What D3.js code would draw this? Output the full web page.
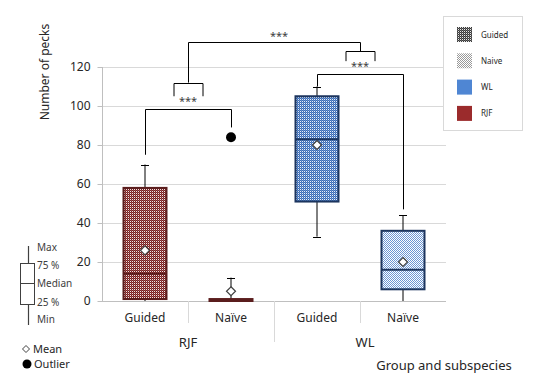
<!DOCTYPE html>
<html><head><meta charset="utf-8">
<script src="https://cdn.jsdelivr.net/npm/d3@7"></script>
<style>body{margin:0;background:#fff}svg{display:block}text{font-family:"Noto Sans",sans-serif}</style>
</head><body><svg id="c" width="547" height="379"></svg>
<script>
const categories = ["Guided","Naïve","Guided","Naïve"];
const groups = ["RJF","RJF","WL","WL"];
const groupNames = ["RJF","WL"];
const mins = [0, 0, 33, 0];
const q1s = [1, 0, 51, 6];
const medians = [14, 0, 83, 16];
const q3s = [58, 1, 105, 36];
const maxs = [70, 12, 110, 44];
const means = [26, 5, 80, 20];
const outlierIdx = [1];
const outlierVals = [84];
const yTicks = [0, 20, 40, 60, 80, 100, 120];
const legendLabels = ["Guided","Naive","WL","RJF"];
// significance brackets
const bracketLeft = [0, 2];
const bracketRight = [1, 3];
const bracketLevel = [98.5, 116.5];
const bracketLeftEnd = [75, 110];
const bracketRightEnd = [89, 47];
const sigLabels = ["***","***","***"];

const svg = d3.select("#c");
const keys = categories.map((c,i)=>groups[i]+"-"+c);
const x = d3.scaleBand().domain(keys).range([102,446]);
const y = d3.scaleLinear().domain([0,120]).range([301,67]);
const bw = x.bandwidth();
const cx = i => x(keys[i]) + bw/2;

// patterns
const defs = svg.append("defs");
function pat(id, color, bg, dense){
  const p = defs.append("pattern").attr("id",id).attr("width",2).attr("height",2).attr("patternUnits","userSpaceOnUse");
  p.append("rect").attr("width",2).attr("height",2).attr("fill",bg);
  p.append("rect").attr("x",0).attr("y",0).attr("width",1).attr("height",1).attr("fill",color);
  p.append("rect").attr("x",1).attr("y",1).attr("width",1).attr("height",1).attr("fill",color);
  if(dense){ p.append("rect").attr("x",1).attr("y",0).attr("width",1).attr("height",1).attr("fill",dense); }
}
pat("rjfG","#742020","#f2e2e2","#9c4b4b");
pat("rjfN","#7a2424","#ffffff",null);
pat("wlG","#3a6cb6","#eaf0fa","#6890cc");
pat("wlN","#6c96d3","#ffffff",null);
pat("legG","#3a3a3a","#e8e8e8","#6a6a6a");
pat("legN","#9a9a9a","#ffffff",null);
const fills = ["url(#rjfG)","url(#rjfN)","url(#wlG)","url(#wlN)"];
const strokes = ["#5a1d1d","#5a1d1d","#1c355e","#1c355e"];

// gridlines
svg.append("g").selectAll("line").data(yTicks.filter(d=>d>0)).join("line")
  .attr("x1",102).attr("x2",446).attr("y1",d=>y(d)+0.5).attr("y2",d=>y(d)+0.5)
  .attr("stroke","#d9d9d9");
svg.append("line").attr("x1",102).attr("x2",446).attr("y1",y(0)+0.5).attr("y2",y(0)+0.5).attr("stroke","#bfbfbf");

// y axis
const ya = svg.append("g").attr("transform","translate(102.5,0)")
  .call(d3.axisLeft(y).tickValues(yTicks).tickSize(5).tickPadding(7));
ya.select(".domain").attr("stroke","#bfbfbf").attr("d","M0,"+y(120)+"V"+(y(0)+1));
ya.selectAll(".tick line").attr("stroke","#bfbfbf");
ya.selectAll(".tick text").attr("font-family","Noto Sans").attr("font-size",12).attr("fill","#262626");

// category separators
const seps = [1,2,3];
svg.append("g").selectAll("line").data(seps).join("line")
  .attr("x1",d=>x(keys[d])+0.5).attr("x2",d=>x(keys[d])+0.5)
  .attr("y1",y(0)).attr("y2",d=>d===2?342:323).attr("stroke","#d9d9d9");

// category labels
svg.append("g").selectAll("text").data(categories).join("text")
  .attr("x",(d,i)=>cx(i)).attr("y",322).attr("text-anchor","middle")
  .attr("font-size",12).attr("fill","#262626").text(d=>d);
svg.append("g").selectAll("text").data(groupNames).join("text")
  .attr("x",(g)=>{const idx=groups.map((gg,i)=>gg===g?i:-1).filter(i=>i>=0);return (x(keys[idx[0]])+x(keys[idx[idx.length-1]])+bw)/2 + (g==="WL"?5:0);})
  .attr("y",347).attr("text-anchor","middle").attr("font-size",13).attr("fill","#262626").text(d=>d);
svg.append("text").attr("x",444).attr("y",370).attr("text-anchor","middle").attr("font-size",13).attr("fill","#262626").text("Group and subspecies");
svg.append("text").attr("transform","translate(49,72) rotate(-90)").attr("text-anchor","middle")
  .attr("font-size",12).attr("fill","#262626").text("Number of pecks");

// boxes
const bxw = bw/2;
const g = svg.append("g");
keys.forEach((k,i)=>{
  const c = cx(i);
  g.append("line").attr("x1",c).attr("x2",c).attr("y1",y(q3s[i])).attr("y2",y(maxs[i])).attr("stroke","#000");
  g.append("line").attr("x1",c-4).attr("x2",c+4).attr("y1",Math.round(y(maxs[i]))+0.5).attr("y2",Math.round(y(maxs[i]))+0.5).attr("stroke","#000");
  if(mins[i] < q1s[i]){
    g.append("line").attr("x1",c).attr("x2",c).attr("y1",y(q1s[i])).attr("y2",y(mins[i])).attr("stroke","#000");
    if(mins[i]>0) g.append("line").attr("x1",c-4).attr("x2",c+4).attr("y1",Math.round(y(mins[i]))+0.5).attr("y2",Math.round(y(mins[i]))+0.5).attr("stroke","#000");
  }
  const top = y(q3s[i]), bot = y(q1s[i]);
  g.append("rect").attr("x",c-bxw/2).attr("y",top).attr("width",bxw).attr("height",Math.max(bot-top,0.5))
    .attr("fill",fills[i]).attr("stroke",strokes[i]).attr("stroke-width",2);
  g.append("line").attr("x1",c-bxw/2).attr("x2",c+bxw/2).attr("y1",y(medians[i])).attr("y2",y(medians[i]))
    .attr("stroke",strokes[i]).attr("stroke-width",2);
  const my = y(means[i]);
  g.append("path").attr("d",`M${c},${my-4.5}L${c+4.5},${my}L${c},${my+4.5}L${c-4.5},${my}Z`)
    .attr("fill","#fff").attr("stroke","#404040").attr("stroke-width",1.2);
});
outlierIdx.forEach((oi,j)=>{
  g.append("circle").attr("cx",cx(oi)).attr("cy",y(outlierVals[j])).attr("r",5).attr("fill","#000");
});

// brackets
const b = svg.append("g").attr("fill","none").attr("stroke","#000");
const mids = [];
bracketLeft.forEach((l,i)=>{
  const x1 = cx(l), x2 = cx(bracketRight[i]), yl = y(bracketLevel[i]);
  b.append("path").attr("d",`M${x1+0.5},${y(bracketLeftEnd[i])}V${Math.round(yl)+0.5}H${x2+0.5}V${y(bracketRightEnd[i])}`);
  mids.push((x1+x2)/2);
});
const smallTop = [112, 128];
const smallBot = [105, 123];
const topLevel = 133;
const smallHalf = 14.5;
mids.forEach((m,i)=>{
  b.append("path").attr("d",`M${m-smallHalf+0.5},${y(smallBot[i])}V${Math.round(y(smallTop[i]))+0.5}H${m+smallHalf+0.5}V${y(smallBot[i])}`);
});
b.append("path").attr("d",`M${mids[0]+0.5},${y(smallTop[0])}V${Math.round(y(topLevel))+0.5}H${mids[1]+0.5}V${y(smallTop[1])}`);
const sigPos = [[mids[0], y(smallBot[0])+9], [mids[1], y(smallBot[1])+9], [(mids[0]+mids[1])/2+5, y(topLevel)-2]];
svg.append("g").selectAll("text").data(sigLabels).join("text")
  .attr("x",(d,i)=>sigPos[i][0]).attr("y",(d,i)=>sigPos[i][1]).attr("text-anchor","middle")
  .attr("font-family","DejaVu Sans").attr("font-size",11).attr("fill","#404040").text(d=>d);

// legend
const lg = svg.append("g");
lg.append("rect").attr("x",443.5).attr("y",16.5).attr("width",79).attr("height",114).attr("fill","#fff").attr("stroke","#d9d9d9");
const legFills = ["url(#legG)","url(#legN)","#4f86d3","#9b2b2c"];
legendLabels.forEach((l,i)=>{
  const yy = 27 + i*26.3;
  lg.append("rect").attr("x",457).attr("y",yy).attr("width",15).attr("height",15).attr("fill",legFills[i]);
  lg.append("text").attr("x",481).attr("y",yy+10.5).attr("font-size",8).attr("fill","#262626").text(l);
});

// inset box legend
const il = svg.append("g");
il.append("line").attr("x1",28.5).attr("x2",28.5).attr("y1",246).attr("y2",325).attr("stroke","#404040").attr("stroke-width",1.2);
il.append("rect").attr("x",20.5).attr("y",263.5).attr("width",14).attr("height",41).attr("fill","#fff").attr("stroke","#404040");
il.append("line").attr("x1",20.5).attr("x2",34.5).attr("y1",283.5).attr("y2",283.5).attr("stroke","#404040");
const insetLabels = ["Max","75 %","Median","25 %","Min"];
const insetY = [247,265,283,302,319];
insetLabels.forEach((t,i)=>{
  il.append("text").attr("x",37).attr("y",insetY[i]+3.5).attr("font-size",10).attr("fill","#404040").text(t);
});
il.append("path").attr("d","M26,345.5L29.5,349L26,352.5L22.5,349Z").attr("fill","#fff").attr("stroke","#404040");
il.append("text").attr("x",33).attr("y",353).attr("font-size",11).attr("fill","#262626").text("Mean");
il.append("circle").attr("cx",27).attr("cy",364).attr("r",4.5).attr("fill","#000");
il.append("text").attr("x",34).attr("y",368).attr("font-size",11).attr("fill","#262626").text("Outlier");
</script></body></html>
